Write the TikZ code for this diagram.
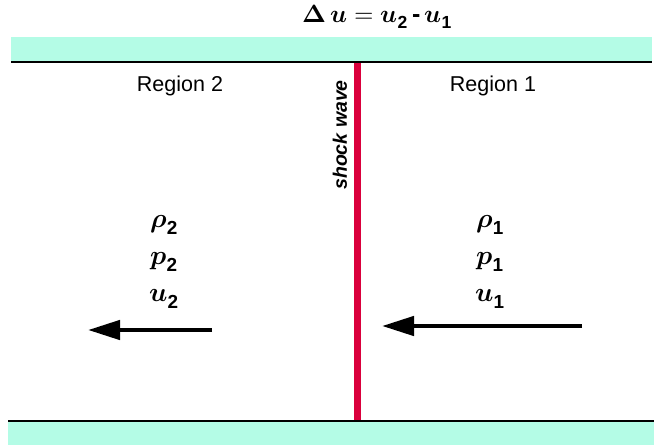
\documentclass[tikz,border=0pt]{standalone}
\usepackage{amsmath,bm}
\usepackage{fontspec}
\setmainfont{Liberation Sans}
\usepackage{unicode-math}
\setmathfont{Latin Modern Math}
\usetikzlibrary{arrows.meta}
\definecolor{band}{RGB}{180,252,230}
\definecolor{shock}{RGB}{218,0,60}
\tikzset{
  bandfill/.style={fill=band, draw=none},
  wall/.style={line width=2.4pt, black},
  regionlabel/.style={font=\fontsize{21.5}{24}\selectfont},
  qty/.style={font=\fontsize{27}{30}\selectfont},
  flow/.style={line width=4.5pt, -{Triangle[length=32pt,width=19pt]}}
}
\newcommand{\sbx}[1]{_{\mathbf{#1}}}
\begin{document}
\begin{tikzpicture}[x=1pt,y=-1pt]
\useasboundingbox (0,0) rectangle (654,445);
% bands
\fill[band] (11,37) rectangle (652,61);
\fill[band] (8,422) rectangle (654,445);
\coordinate (tl) at (11,62);
\coordinate (tr) at (652,62);
\coordinate (bl) at (8,421);
\coordinate (br) at (654,421);
\draw[wall] (tl) -- (tr);
\draw[wall] (bl) -- (br);
% shock wave
\coordinate (st) at (357.5,63);
\coordinate (sb) at (357.5,420);
\draw[shock, line width=7pt] (st) -- (sb);
\node[rotate=90, font=\fontsize{19.5}{22}\selectfont\bfseries\itshape] (sw) at (340,135) {shock wave};
% title
\node[font=\fontsize{25}{28}\selectfont] (title) at (377,17) {$\symbfup{\Delta}\,\symbfit{u} \mathrel{=} \symbfit{u}\sbx{2}\,\textbf{-}\,\symbfit{u}\sbx{1}$};
% region labels
\node[regionlabel] (r2) at (180,86) {Region 2};
\node[regionlabel] (r1) at (493,86) {Region 1};
% quantities
\node[qty] (rho2) at (164,225) {$\symbfit{\rho}\sbx{2}$};
\node[qty] (p2) at (164,262) {$\symbfit{p}\sbx{2}$};
\node[qty] (u2) at (164,299) {$\symbfit{u}\sbx{2}$};
\node[qty] (rho1) at (490,225) {$\symbfit{\rho}\sbx{1}$};
\node[qty] (p1) at (490,262) {$\symbfit{p}\sbx{1}$};
\node[qty] (u1) at (490,299) {$\symbfit{u}\sbx{1}$};
% arrows
\coordinate (a2s) at (212,330);
\coordinate (a2e) at (88,330);
\coordinate (a1s) at (582,326);
\coordinate (a1e) at (382,326);
\draw[flow] (a2s) -- (a2e);
\draw[flow] (a1s) -- (a1e);
\end{tikzpicture}
\end{document}
